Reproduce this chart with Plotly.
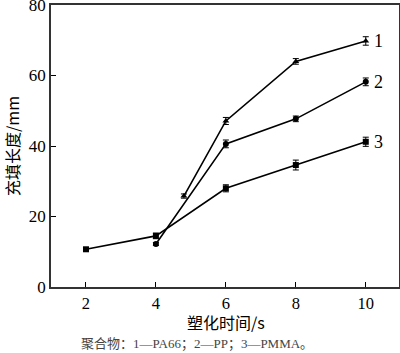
import plotly.graph_objects as go

x1 = [4.8, 6, 8, 10]
y1 = [25.8, 47.1, 64.0, 69.8]
e1 = [0.6, 1.0, 0.8, 1.2]

x2 = [4, 6, 8, 10]
y2 = [12.2, 40.6, 47.7, 58.2]
e2 = [0.4, 1.1, 0.8, 1.1]

x3 = [2, 4, 6, 8, 10]
y3 = [10.7, 14.5, 28.0, 34.6, 41.2]
e3 = [0.4, 0.8, 1.0, 1.4, 1.3]

labels = ["1", "2", "3"]
serif = "Liberation Serif, Times New Roman, serif"
cjk = "Noto Sans CJK SC"

fig = go.Figure()
for xs, ys, es, sym in [(x1, y1, e1, "triangle-up"), (x2, y2, e2, "circle"), (x3, y3, e3, "square")]:
    fig.add_trace(go.Scatter(
        x=xs, y=ys, mode="lines+markers",
        line=dict(color="black", width=1.6),
        marker=dict(symbol=sym, size=6, color="black"),
        error_y=dict(type="data", array=es, visible=True, color="black", thickness=1, width=3),
        showlegend=False))

for lab, ys in zip(labels, [y1, y2, y3]):
    fig.add_annotation(x=10, y=ys[-1], text=lab, showarrow=False, xanchor="left", xshift=6,
                       font=dict(family=serif, size=18, color="black"))

fig.add_annotation(x=0.503, y=-0.125, xref="paper", yref="paper", text="塑化时间/s", showarrow=False,
                   yanchor="middle", font=dict(family=cjk, size=16, color="black"))
fig.add_annotation(x=0.42, y=-0.203, xref="paper", yref="paper",
                   text="聚合物：1—PA66；2—PP；3—PMMA。", showarrow=False,
                   yanchor="middle", font=dict(family=serif + ", " + cjk, size=13, color="#444"))

fig.update_layout(
    width=400, height=353,
    margin=dict(l=51, r=1, t=5, b=66, autoexpand=False),
    paper_bgcolor="white", plot_bgcolor="white",
    xaxis=dict(range=[1, 10.95], tickvals=[2, 4, 6, 8, 10], ticks="inside", ticklen=5,
               automargin=False,
               tickcolor="black", showgrid=False, zeroline=False, showline=True, linecolor="#333",
               linewidth=1.5, mirror=True, tickfont=dict(family=serif, size=16.5, color="black")),
    yaxis=dict(range=[0, 80], tickvals=[0, 20, 40, 60, 80], ticks="inside", ticklen=5,
               ticklabeloverflow="allow", automargin=False,
               tickcolor="black", showgrid=False, zeroline=False, showline=True, linecolor="#333",
               linewidth=1.5, mirror=True, tickfont=dict(family=serif, size=17, color="black"),
               title=dict(text="充填长度/mm", font=dict(family=cjk + ", " + serif, size=16, color="black"),
                          standoff=8)),
)
fig.write_html("out.html")
